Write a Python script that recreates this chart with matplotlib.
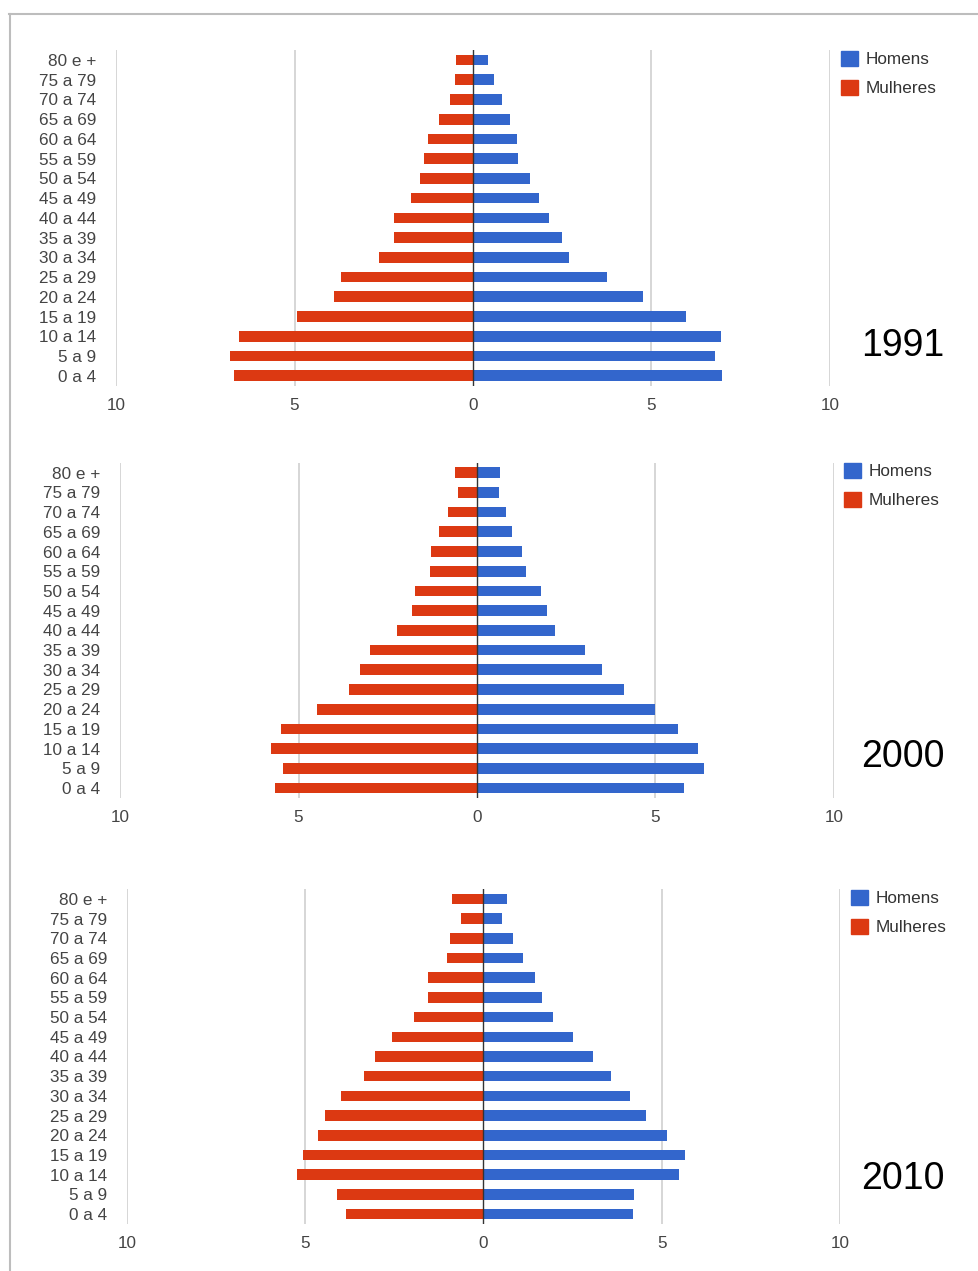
import matplotlib
matplotlib.use("Agg")
import matplotlib.pyplot as plt
from matplotlib.patches import Patch
from matplotlib.lines import Line2D
import numpy as np

plt.rcParams['font.family'] = ['Liberation Sans', 'DejaVu Sans']

# faixas etárias (de baixo para cima)
ages = ['0 a 4', '5 a 9', '10 a 14', '15 a 19', '20 a 24', '25 a 29', '30 a 34',
        '35 a 39', '40 a 44', '45 a 49', '50 a 54', '55 a 59', '60 a 64',
        '65 a 69', '70 a 74', '75 a 79', '80 e +']
years = ['1991', '2000', '2010']

homens_1991 = [6.98, 6.79, 6.94, 5.96, 4.75, 3.74, 2.69, 2.50, 2.13, 1.86, 1.60, 1.26, 1.22, 1.03, 0.80, 0.58, 0.43]
mulheres_1991 = [6.70, 6.81, 6.55, 4.93, 3.88, 3.69, 2.64, 2.20, 2.20, 1.74, 1.48, 1.37, 1.25, 0.95, 0.65, 0.51, 0.47]

homens_2000 = [5.80, 6.35, 6.18, 5.62, 4.99, 4.11, 3.51, 3.02, 2.19, 1.97, 1.78, 1.36, 1.25, 0.98, 0.80, 0.61, 0.65]
mulheres_2000 = [5.66, 5.43, 5.77, 5.50, 4.49, 3.59, 3.28, 2.99, 2.23, 1.82, 1.75, 1.33, 1.29, 1.06, 0.80, 0.54, 0.62]

homens_2010 = [4.19, 4.23, 5.47, 5.66, 5.14, 4.57, 4.12, 3.59, 3.07, 2.51, 1.94, 1.63, 1.45, 1.11, 0.84, 0.51, 0.66]
mulheres_2010 = [3.85, 4.12, 5.24, 5.06, 4.64, 4.46, 4.01, 3.36, 3.03, 2.58, 1.94, 1.56, 1.56, 1.03, 0.93, 0.63, 0.89]

xticks = [-10, -5, 0, 5, 10]
xtick_labels = ['10', '5', '0', '5', '10']

BLUE = '#3366CC'
RED = '#DC3912'

W, H = 979, 1271
fig = plt.figure(figsize=(W / 100, H / 100), dpi=100)

# moldura cinza (topo e esquerda)
fig.add_artist(Line2D([9 / W, 1], [1 - 13.5 / H, 1 - 13.5 / H], color='#BDBDBD', lw=1.5,
                      transform=fig.transFigure))
fig.add_artist(Line2D([9.5 / W, 9.5 / W], [0, 1 - 13.5 / H], color='#BDBDBD', lw=1.5,
                      transform=fig.transFigure))

# posições em pixels: (esq, dir, topo, base), legenda (x, y), ano (x, y)
panels = [
    (homens_1991, mulheres_1991, (116, 830, 50.1, 385.6), (841, 51), (903, 346)),
    (homens_2000, mulheres_2000, (120, 834, 462.8, 797.9), (844, 463), (903, 757)),
    (homens_2010, mulheres_2010, (127, 840, 889.2, 1223.8), (851, 890), (903, 1179)),
]

y = np.arange(len(ages))
for (hom, mul, (l, r, t, b), (lx, ly), (tx, ty)), year in zip(panels, years):
    ax = fig.add_axes([l / W, 1 - b / H, (r - l) / W, (b - t) / H])
    for g in [-10, -5, 5, 10]:
        ax.axvline(g, color='#CCCCCC', lw=1.1, zorder=0)
    ax.barh(y, hom, height=0.54, color=BLUE, zorder=2, label='Homens')
    ax.barh(y, [-v for v in mul], height=0.54, color=RED, zorder=2, label='Mulheres')
    ax.axvline(0, color='#333333', lw=1.0, zorder=3)
    ax.set_xlim(-10, 10)
    ax.set_ylim(-0.5, len(ages) - 0.5)
    ax.set_xticks(xticks)
    ax.set_xticklabels(xtick_labels)
    ax.set_yticks(y)
    ax.set_yticklabels(ages)
    ax.tick_params(axis='both', length=0, labelsize=12.3, labelcolor='#444444')
    ax.tick_params(axis='x', pad=9)
    ax.tick_params(axis='y', pad=14)
    for s in ax.spines.values():
        s.set_visible(False)

    handles = [Patch(color=BLUE, label='Homens'), Patch(color=RED, label='Mulheres')]
    ax.legend(handles=handles, loc='upper left', bbox_to_anchor=(lx / W, 1 - ly / H),
              bbox_transform=fig.transFigure, frameon=False, fontsize=12.3,
              handlelength=1.0, handleheight=1.0, handletextpad=0.45,
              labelspacing=0.72, borderpad=0, borderaxespad=0, labelcolor='#333333')

    fig.text(tx / W, 1 - ty / H, year, fontsize=27, ha='center', va='center', color='black')

fig.savefig('out.png', dpi=100)
